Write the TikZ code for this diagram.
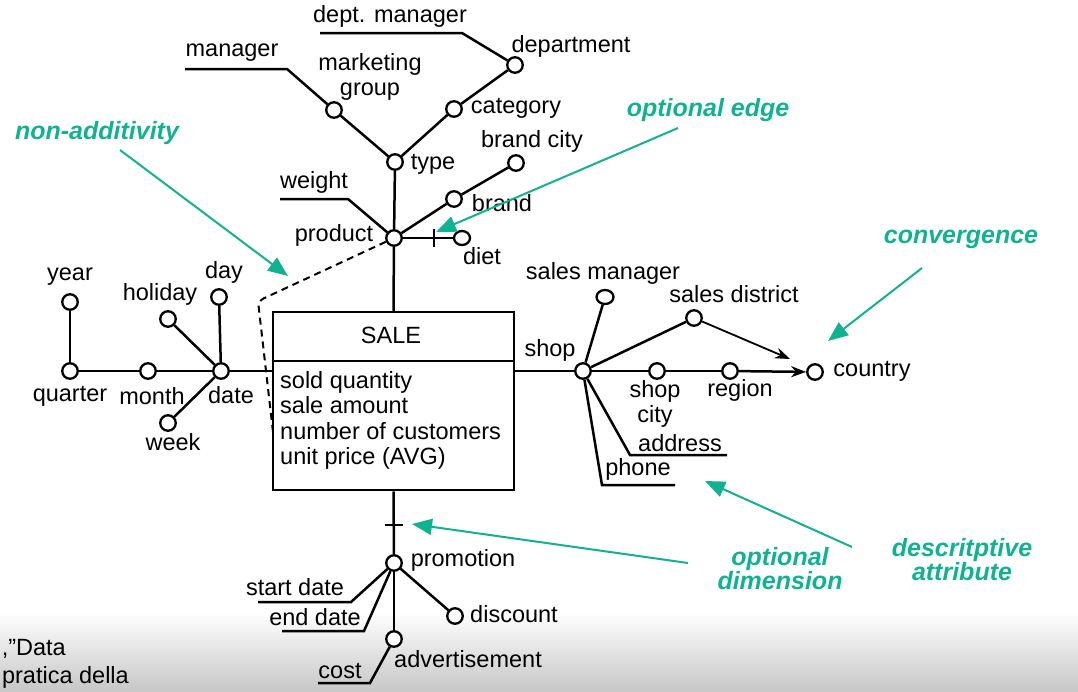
\documentclass[tikz,border=0pt]{standalone}
\usepackage{fontspec}
\setmainfont{Liberation Sans}
\usetikzlibrary{arrows.meta,calc,shapes.geometric}
\definecolor{teal1}{RGB}{16,178,146}
\begin{document}
\begin{tikzpicture}[x=1pt,y=-1pt,
  lw/.style={line width=2.5pt},
  dot/.style={circle,draw,fill=white,inner sep=0pt,minimum size=15.5pt,line width=2.3pt},
  lbl/.style={font=\fontsize{23.5}{25.5}\selectfont,inner sep=0pt,align=center},
  ann/.style={font=\fontsize{25}{24}\selectfont\bfseries\itshape,text=teal1,inner sep=0pt,align=center},
  annarr/.style={draw=teal1,line width=2pt,-{Triangle[length=20pt,width=16pt]}},
  conv/.style={lw,-{Stealth[length=15pt,width=11pt]}},
  salebox/.style={draw,line width=2.5pt,minimum width=241pt,minimum height=178pt,inner sep=0pt},
]
\useasboundingbox (0,0) rectangle (1078,691);
\shade[top color=white,bottom color=black!22] (0,612) rectangle (1078,691);

% ---------- SALE box ----------
\node[salebox] (sale) at (393.5,401) {};
\draw[lw] ($(sale.north west)+(0,50)$) -- ($(sale.north east)+(0,50)$);
\node[lbl] (saleT) at (391,335) {SALE};
\node[lbl,anchor=base west] (m1) at (280,388) {sold quantity};
\node[lbl,anchor=base west] (m2) at (280,413.5) {sale amount};
\node[lbl,anchor=base west] (m3) at (280,439) {number of customers};
\node[lbl,anchor=base west] (m4) at (280,464.5) {unit price (AVG)};

% ---------- product hierarchy ----------
\node[dot] (product) at (394,238) {};
\node[dot] (type) at (395,162) {};
\node[dot] (mkt) at (334,110) {};
\node[dot] (cat) at (454,109) {};
\node[dot] (dept) at (515,65) {};
\node[dot] (bcity) at (516,163) {};
\node[dot] (brand) at (454,199) {};
\node[dot,ellipse,minimum width=16pt,minimum height=14pt] (diet) at (462,238) {};

\coordinate (mgrA) at (185,69);  \coordinate (mgrB) at (287,69);
\coordinate (dmA) at (320,33);   \coordinate (dmB) at (462,33);
\coordinate (wA) at (280,199);   \coordinate (wB) at (348,199);

\draw[lw] (mgrA) -- (mgrB) -- (mkt);
\draw[lw] (dmA) -- (dmB) -- (dept);
\draw[lw] (wA) -- (wB) -- (product);
\draw[lw] (mkt) -- (type);
\draw[lw] (cat) -- (type);
\draw[lw] (dept) -- (cat);
\draw[lw] (type) -- (product);
\draw[lw] (bcity) -- (brand);
\draw[lw] (brand) -- (product);
\draw[lw] (product) -- (diet);
\coordinate (tkA) at (434,229); \coordinate (tkB) at (434,247);
\draw[lw] (tkA) -- (tkB);
\draw[lw] (product) -- (sale.north);
\coordinate (dsA) at (258,301); \coordinate (dsB) at (273,432);
\draw[line width=2pt,dash pattern=on 7pt off 5pt,rounded corners=6pt] (product) -- (dsA) -- (dsB);

\node[lbl] (lDM) at (390,16) {dept. manager};
\node[lbl] (lMgr) at (232,53) {manager};
\node[lbl] (lMkt) at (370,77) {marketing\\group};
\node[lbl] (lDept) at (571,46) {department};
\node[lbl] (lCat) at (516,108) {category};
\node[lbl] (lBC) at (532,141) {brand city};
\node[lbl] (lType) at (433,164) {type};
\node[lbl] (lW) at (314,182) {weight};
\node[lbl] (lBrand) at (502,203) {brand};
\node[lbl] (lProd) at (334,235) {product};
\node[lbl] (lDiet) at (482,256) {diet};

% ---------- date hierarchy ----------
\node[dot] (date) at (221,371) {};
\node[dot] (month) at (148,371) {};
\node[dot] (quarter) at (70,371) {};
\node[dot] (year) at (70,302) {};
\node[dot] (day) at (219,297) {};
\node[dot] (holiday) at (168,319) {};
\node[dot] (week) at (168,423) {};
\draw[lw] (date) -- (sale.west |- date);
\draw[lw] (quarter) -- (month);
\draw[lw] (month) -- (date);
\draw[lw] (year) -- (quarter);
\draw[lw] (day) -- (date);
\draw[lw] (holiday) -- (date);
\draw[lw] (week) -- (date);
\node[lbl] (lYear) at (70,277) {year};
\node[lbl] (lHol) at (160,294) {holiday};
\node[lbl] (lDay) at (224,272) {day};
\node[lbl] (lQ) at (70,396) {quarter};
\node[lbl] (lMon) at (152,396) {month};
\node[lbl] (lDate) at (231,395) {date};
\node[lbl] (lWeek) at (173,442) {week};

% ---------- shop hierarchy ----------
\node[dot] (shop) at (583,371) {};
\node[dot,ellipse,minimum width=17pt,minimum height=14pt] (smgr) at (605,297) {};
\node[dot] (sdist) at (694,318) {};
\node[dot] (scity) at (657,371) {};
\node[dot] (region) at (730,371) {};
\node[dot] (country) at (815,372) {};
\draw[lw] (sale.east |- shop) -- (shop);
\draw[lw] (smgr) -- (shop);
\draw[lw] (shop) -- (sdist);
\draw[lw] (shop) -- (scity);
\draw[lw] (scity) -- (region);
\draw[conv] (region) -- (country);
\coordinate (cvEnd) at (790,359);
\draw[conv,line width=1.8pt] (sdist) -- (cvEnd);
\coordinate (adA) at (630,455); \coordinate (adB) at (727,455);
\coordinate (phA) at (602,485); \coordinate (phB) at (675,485);
\draw[lw] (shop) -- (adA) -- (adB);
\draw[lw] (shop) -- (phA) -- (phB);
\node[lbl] (lShop) at (550,350) {shop};
\node[lbl] (lSM) at (603,273) {sales manager};
\node[lbl] (lSD) at (734,294) {sales district};
\node[lbl] (lSC) at (655,404) {shop\\city};
\node[lbl] (lReg) at (740,390) {region};
\node[lbl] (lAddr) at (680,443) {address};
\node[lbl] (lPh) at (638,469) {phone};
\node[lbl] (lCty) at (872,371) {country};

% ---------- promotion hierarchy ----------
\node[dot] (promo) at (394,563) {};
\node[dot] (disc) at (455,616) {};
\node[dot] (adv) at (394,639) {};
\draw[lw] (sale.south) -- (promo);
\coordinate (tpA) at (385,525); \coordinate (tpB) at (403,525);
\draw[lw] (tpA) -- (tpB);
\draw[lw] (promo) -- (disc);
\draw[lw] (promo) -- (adv);
\coordinate (sdA) at (351,602); \coordinate (sdB) at (258,602);
\coordinate (edA) at (364,631); \coordinate (edB) at (282,631);
\coordinate (coA) at (370,683); \coordinate (coB) at (318,683);
\draw[lw] (promo) -- (sdA) -- (sdB);
\draw[lw] (promo) -- (edA) -- (edB);
\draw[lw] (adv) -- (coA) -- (coB);
\node[lbl] (lPromo) at (463,560) {promotion};
\node[lbl] (lSt) at (295,587) {start date};
\node[lbl] (lEnd) at (315,617) {end date};
\node[lbl] (lDisc) at (514,614) {discount};
\node[lbl] (lAdv) at (468,659) {advertisement};
\node[lbl] (lCost) at (340,671) {cost};

% ---------- annotations ----------
\node[ann] (aNA) at (97,133) {non-additivity};
\node[ann] (aOE) at (708,110) {optional edge};
\node[ann] (aCV) at (961,239) {convergence};
\node[ann] (aOD) at (780,569) {optional\\dimension};
\node[ann] (aDA) at (962,560) {descritptive\\attribute};
\coordinate (naS) at (120,150); \coordinate (naT) at (288,276);
\coordinate (oeS) at (678,128); \coordinate (oeT) at (436,232);
\coordinate (cvS) at (922,268); \coordinate (cvT) at (828,341);
\coordinate (odS) at (688,563); \coordinate (odT) at (412,524);
\coordinate (daS) at (852,547); \coordinate (daT) at (705,481);
\draw[annarr] (naS) -- (naT);
\draw[annarr] (oeS) -- (oeT);
\draw[annarr] (cvS) -- (cvT);
\draw[annarr] (odS) -- (odT);
\draw[annarr] (daS) -- (daT);

% ---------- cut-off caption ----------
\node[lbl,anchor=base east] (cap1) at (66,655) {,”Data};
\node[lbl,anchor=base east] (cap2) at (129,683) {pratica della};
\end{tikzpicture}
\end{document}
